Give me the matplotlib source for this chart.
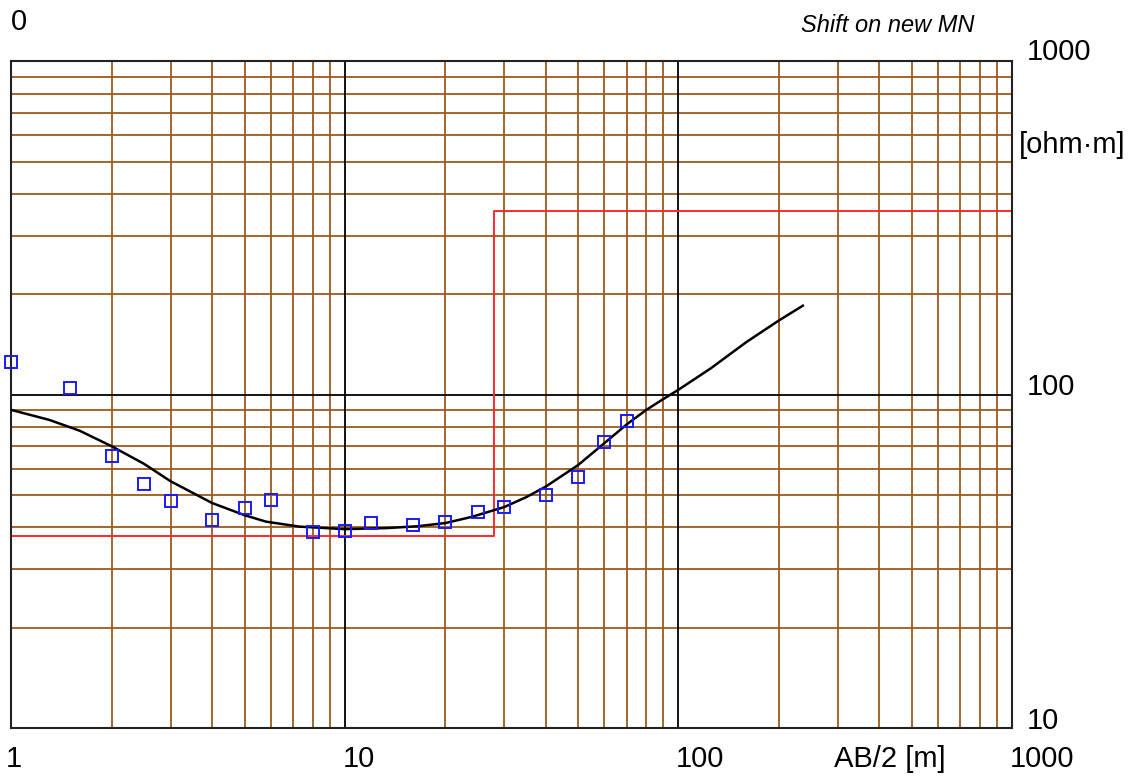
import numpy as np
import matplotlib.pyplot as plt

plt.rcParams['font.family'] = ['Liberation Sans', 'DejaVu Sans']

# measured apparent resistivity (AB/2 in m, rho_a in ohm*m)
ab2 = [1, 1.5, 2, 2.5, 3, 4, 5, 6, 8, 10, 12, 16, 20, 25, 30, 40, 50, 60, 70]
rho_meas = [125, 105, 65.5, 54, 48, 42.2, 45.6, 48.4, 38.6, 38.9,
            41.1, 40.7, 41.6, 44.6, 46.1, 50, 56.8, 71.9, 83.6]

# computed sounding curve for the fitted model
ab2_calc = [1, 1.3, 1.6, 2, 2.5, 3, 4, 5, 5.8, 7.3, 10, 13.4, 16.5, 20, 24, 30,
            35, 40, 50, 60, 70, 80, 90, 100, 125, 160, 200, 236]
rho_calc = [90, 84, 78, 70, 62, 55, 47.3, 43.5, 41.6, 40.2, 39.5, 39.8, 40.3,
            41.2, 43, 46, 49.3, 53, 61.5, 71.6, 81.5, 90, 97, 103.5, 120, 144,
            167, 185]

# layered model: layer resistivities and bottom depths
model_rho = [37.7, 356]
model_depth = [28.0]

grid_brown = '#9c5a1c'

fig = plt.figure(figsize=(11.34, 7.80), dpi=100)
ax = fig.add_axes([0.0101, 0.0667, 0.8823, 0.8545])
ax.set_xscale('log')
ax.set_yscale('log')
ax.set_xlim(1, 1000)
ax.set_ylim(10, 1000)

# log paper: brown lines at 2..9 of each decade, black at the decades
for m in range(2, 10):
    for dec in [1, 10, 100]:
        ax.axvline(dec * m, color=grid_brown, lw=1.3, zorder=1)
    for dec in [10, 100]:
        ax.axhline(dec * m, color=grid_brown, lw=1.3, zorder=1)
for dec in [10, 100]:
    ax.axvline(dec, color='black', lw=1.3, zorder=1.5)
ax.axhline(100, color='black', lw=1.3, zorder=1.5)

# model as a step line
mx = [1, model_depth[0], model_depth[0], 1000]
my = [model_rho[0], model_rho[0], model_rho[1], model_rho[1]]
ax.plot(mx, my, color='#ff2a2a', lw=1.4, zorder=2, clip_on=False)

ax.plot(ab2_calc, rho_calc, color='black', lw=1.8, zorder=3)
ax.plot(ab2, rho_meas, ls='none', marker='s', ms=8, mfc='none', mec='#1a1aff',
        mew=1.4, zorder=4, clip_on=False)

ax.set_xticks([])
ax.set_yticks([])
ax.minorticks_off()
for s in ax.spines.values():
    s.set_color('#222222')
    s.set_linewidth(1.5)

fs = 21
W, H = 1134, 780


def label(x, y, s, ha='left', **kw):
    fig.text(x / W, 1 - y / H, s, va='center', ha=ha, **kw)


label(11, 22, '0', fontsize=fs)
label(888, 25, 'Shift on new MN', ha='center', fontsize=17, style='italic')
label(1027, 52, '1000', fontsize=fs)
label(1019, 145, '[ohm·m]', fontsize=fs)
label(1027, 387, '100', fontsize=fs)
label(1027, 721, '10', fontsize=fs)

label(14, 759, '1', ha='center', fontsize=fs)
label(359, 759, '10', ha='center', fontsize=fs)
label(700, 759, '100', ha='center', fontsize=fs)
label(890, 759, 'AB/2 [m]', ha='center', fontsize=fs)
label(1042, 759, '1000', ha='center', fontsize=fs)

fig.savefig('out.png', dpi=100)
